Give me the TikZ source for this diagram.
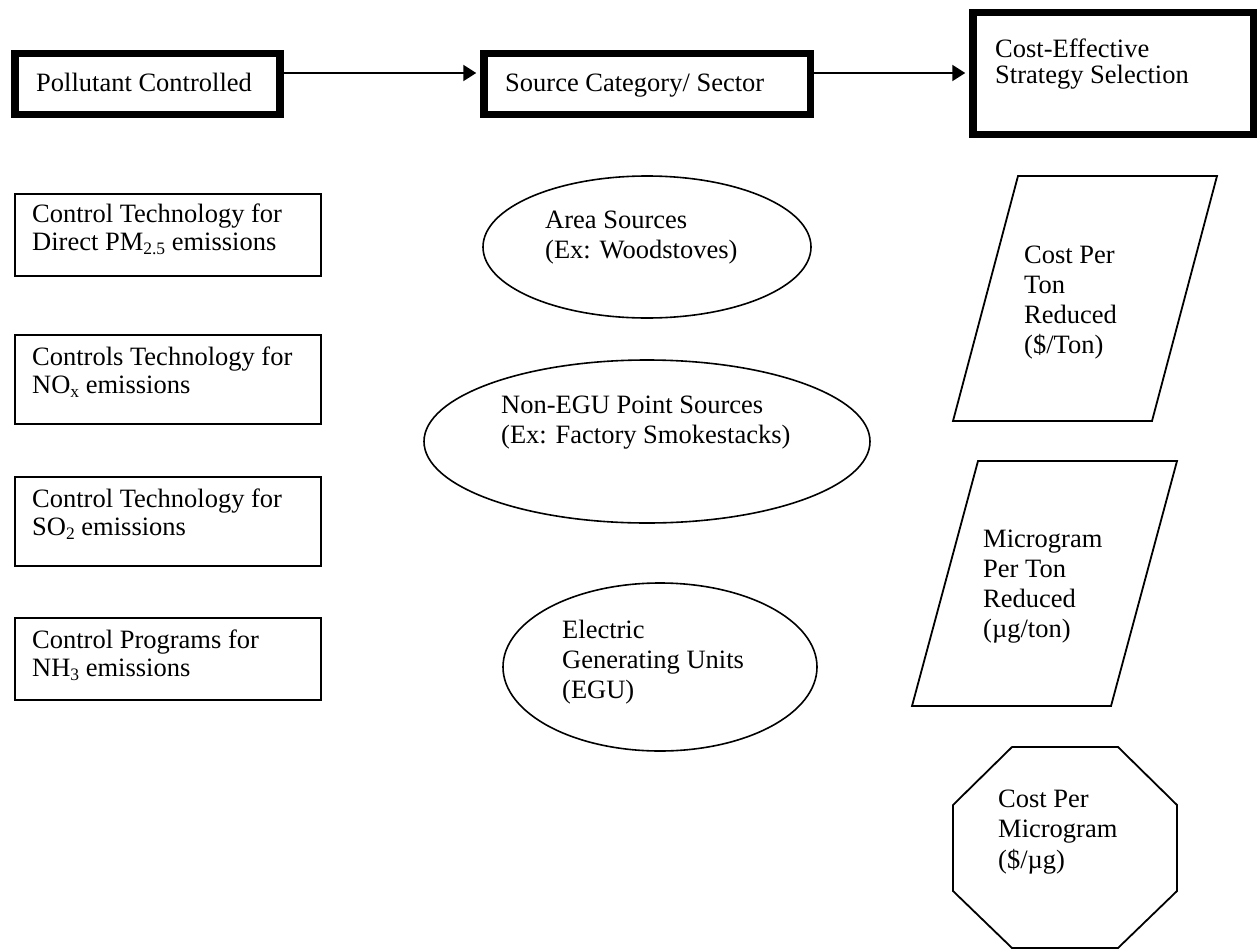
\documentclass[tikz,border=0pt]{standalone}
\usepackage{fontspec}
\setmainfont{Liberation Serif}
\usetikzlibrary{arrows.meta,shapes.geometric}
\newcommand\mlines[2]{{\fontsize{26.5}{#1}\selectfont\begin{tabular}[t]{@{}l@{}}#2\end{tabular}}}
\newcommand\lowsub[1]{\raisebox{-4.5pt}{\fontsize{17.5}{17.5}\selectfont #1}}
\begin{document}
\begin{tikzpicture}[x=1pt,y=-1pt,
  thickbox/.style={draw, line width=7.5pt, rectangle, inner sep=0pt},
  thinbox/.style={draw, line width=1.8pt, rectangle, inner sep=0pt},
  oval/.style={draw, line width=1.6pt, ellipse, inner sep=0pt},
  txt/.style={anchor=base west, inner sep=0pt, font=\fontsize{26.5}{30}\selectfont},
  arr/.style={line width=2pt, -{Triangle[length=13pt,width=16pt]}, shorten >=3.75pt},
  outline/.style={draw, line width=1.8pt, line join=miter}]
\useasboundingbox (0,0) rectangle (1257,950);

% top row
\node[thickbox, minimum width=265pt, minimum height=61pt] (b1) at (147.5,84) {};
\node[thickbox, minimum width=326.5pt, minimum height=61pt] (b2) at (647,84) {};
\node[thickbox, minimum width=280.5pt, minimum height=121.5pt] (b3) at (1113,73.5) {};
\node[txt] (t1) at (36,91) {Pollutant Controlled};
\node[txt] (t2) at (505,91) {Source Category/ Sector};
\node[txt] (t3) at (995,58) {\mlines{24}{Cost-Effective\\Strategy Selection}};
\draw[arr] ([yshift=11pt]b1.east) -- ([yshift=11pt]b1.east -| b2.west);
\draw[arr] ([yshift=11pt]b2.east) -- ([yshift=11pt]b2.east -| b3.west);

% left column
\node[thinbox, minimum width=306pt, minimum height=82pt] (lA) at (168,235) {};
\node[thinbox, minimum width=306pt, minimum height=89pt] (lB) at (168,379.5) {};
\node[thinbox, minimum width=306pt, minimum height=89pt] (lC) at (168,521.5) {};
\node[thinbox, minimum width=306pt, minimum height=82pt] (lD) at (168,659) {};
\node[txt] (tA) at (32,222) {\mlines{28}{Control Technology for\\Direct PM\lowsub{2.5} emissions}};
\node[txt] (tB) at (32,365) {\mlines{28}{Controls Technology for\\NO\lowsub{x} emissions}};
\node[txt] (tC) at (32,507) {\mlines{28}{Control Technology for\\SO\lowsub{2} emissions}};
\node[txt] (tD) at (32,648) {\mlines{28}{Control Programs for\\NH\lowsub{3} emissions}};

% middle column
\node[oval, minimum width=328pt, minimum height=142pt] (e1) at (647,247) {};
\node[oval, minimum width=446pt, minimum height=163pt] (e2) at (647,441.5) {};
\node[oval, minimum width=314pt, minimum height=168pt] (e3) at (660,667) {};
\node[txt] (te1) at (545,228) {\mlines{30}{Area Sources\\(Ex: Woodstoves)}};
\node[txt] (te2) at (501,413) {\mlines{30}{Non-EGU Point Sources\\(Ex: Factory Smokestacks)}};
\node[txt] (te3) at (562,638) {\mlines{30}{Electric\\Generating Units\\(EGU)}};

% right column
\draw[outline] (1018,176) -- (1217,176) -- (1152,421) -- (953,421) -- cycle;
\draw[outline] (978,461) -- (1177,461) -- (1111,706) -- (912,706) -- cycle;
\draw[outline] (1012,747) -- (1118,747) -- (1177,805) -- (1177,891) -- (1118,948) -- (1012,948) -- (953,891) -- (953,805) -- cycle;
\node[txt] (tp1) at (1024,263) {\mlines{30}{Cost Per\\Ton\\Reduced\\(\$/Ton)}};
\node[txt] (tp2) at (983,547) {\mlines{30.3}{Microgram\\Per Ton\\Reduced\\(µg/ton)}};
\node[txt] (to) at (998,807) {\mlines{30.5}{Cost Per\\Microgram\\(\$/µg)}};
\end{tikzpicture}
\end{document}
